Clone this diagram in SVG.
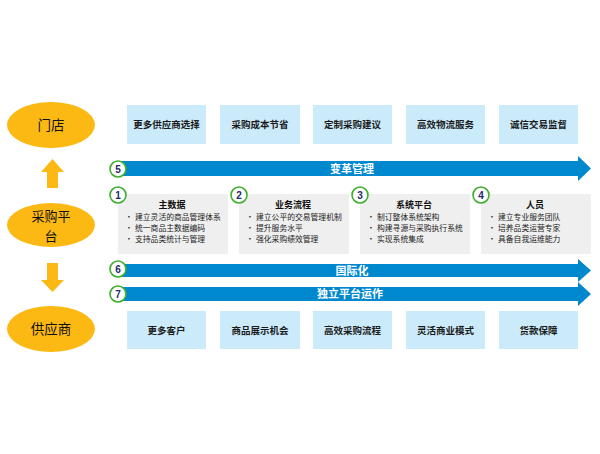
<svg xmlns="http://www.w3.org/2000/svg" width="600" height="454" viewBox="0 0 600 454">
<defs>
<style>
.ell{fill:#FDB913}
.et{font-family:"Noto Sans CJK SC","Liberation Sans",sans-serif;font-size:13.5px;fill:#111;text-anchor:middle}
.et2{font-family:"Noto Sans CJK SC","Liberation Sans",sans-serif;font-size:13px;fill:#111;text-anchor:middle}
.lb{fill:#CBEAFA}
.lt{font-family:"Noto Sans CJK SC","Liberation Sans",sans-serif;font-size:9.5px;font-weight:bold;fill:#1a1a1a;text-anchor:middle}
.gb{fill:#EFEFEF}
.gt{font-family:"Noto Sans CJK SC","Liberation Sans",sans-serif;font-size:9px;font-weight:bold;fill:#111;text-anchor:middle}
.bt{font-family:"Noto Sans CJK SC","Liberation Sans",sans-serif;font-size:7.8px;fill:#222}
.bar{fill:#0088CF}
.bart{font-family:"Noto Sans CJK SC","Liberation Sans",sans-serif;font-size:11px;font-weight:bold;fill:#fff;text-anchor:middle}
.num{fill:#fff;stroke:#3DAE2B;stroke-width:1.6}
.nt{font-family:"Liberation Sans",sans-serif;font-size:10px;font-weight:bold;fill:#1B2A6B;text-anchor:middle}
.ya{fill:#FDB913}
</style>
</defs>
<rect width="600" height="454" fill="#fff"/>
<g id="connectors">
<polygon class="ya" points="52.5,159 64,172 58,172 58,188 47,188 47,172 41,172"/>
<polygon class="ya" points="47,263 58,263 58,280 64,280 52.5,292 41,280 47,280"/>
<g id="bar5"><polygon class="bar" points="118,161 578,161 578,156 591,168.5 578,181 578,176 118,176"/><text class="bart" x="352" y="172.5">变革管理</text></g>
<g id="bar6"><polygon class="bar" points="118,264 578,264 578,259 591,270.5 578,282 578,277 118,277"/><text class="bart" x="352" y="274.5">国际化</text></g>
<g id="bar7"><polygon class="bar" points="118,287 578,287 578,282 591,294 578,306 578,301 118,301"/><text class="bart" x="350" y="298">独立平台运作</text></g>
</g>
<g id="n-mendian"><ellipse class="ell" cx="51" cy="125" rx="44" ry="23"/><text class="et" x="51" y="130">门店</text></g>
<g id="n-platform"><ellipse class="ell" cx="51" cy="225" rx="44" ry="22"/><text class="et2" x="51" y="221">采购平</text><text class="et2" x="51" y="240.5">台</text></g>
<g id="n-supplier"><ellipse class="ell" cx="51" cy="329" rx="44" ry="23"/><text class="et" x="51" y="334">供应商</text></g>
<g id="top1"><rect class="lb" x="127" y="105" width="79" height="39"/><text class="lt" x="166.5" y="128">更多供应商选择</text></g>
<g id="top2"><rect class="lb" x="220" y="105" width="80" height="39"/><text class="lt" x="260" y="128">采购成本节省</text></g>
<g id="top3"><rect class="lb" x="313" y="105" width="79" height="39"/><text class="lt" x="352.5" y="128">定制采购建议</text></g>
<g id="top4"><rect class="lb" x="406" y="105" width="79" height="39"/><text class="lt" x="445.5" y="128">高效物流服务</text></g>
<g id="top5"><rect class="lb" x="499" y="105" width="79" height="39"/><text class="lt" x="538.5" y="128">诚信交易监督</text></g>
<g id="bot1"><rect class="lb" x="127" y="311" width="79" height="38"/><text class="lt" x="166.5" y="334">更多客户</text></g>
<g id="bot2"><rect class="lb" x="220" y="311" width="80" height="38"/><text class="lt" x="260" y="334">商品展示机会</text></g>
<g id="bot3"><rect class="lb" x="313" y="311" width="79" height="38"/><text class="lt" x="352.5" y="334">高效采购流程</text></g>
<g id="bot4"><rect class="lb" x="406" y="311" width="79" height="38"/><text class="lt" x="445.5" y="334">灵活商业模式</text></g>
<g id="bot5"><rect class="lb" x="499" y="311" width="79" height="38"/><text class="lt" x="538.5" y="334">货款保障</text></g>
<g id="mid1"><rect class="gb" x="118" y="194" width="110" height="60"/>
<text class="gt" x="172" y="208">主数据</text>
<text class="bt" x="125" y="220">•</text><text class="bt" x="135" y="220">建立灵活的商品管理体系</text>
<text class="bt" x="125" y="231">•</text><text class="bt" x="135" y="231">统一商品主数据编码</text>
<text class="bt" x="125" y="242">•</text><text class="bt" x="135" y="242">支持品类统计与管理</text></g>
<g id="mid2"><rect class="gb" x="239" y="194" width="110" height="60"/>
<text class="gt" x="293" y="208">业务流程</text>
<text class="bt" x="246" y="220">•</text><text class="bt" x="256" y="220">建立公平的交易管理机制</text>
<text class="bt" x="246" y="231">•</text><text class="bt" x="256" y="231">提升服务水平</text>
<text class="bt" x="246" y="242">•</text><text class="bt" x="256" y="242">强化采购绩效管理</text></g>
<g id="mid3"><rect class="gb" x="360" y="194" width="110" height="60"/>
<text class="gt" x="414" y="208">系统平台</text>
<text class="bt" x="367" y="220">•</text><text class="bt" x="377" y="220">制订整体系统架构</text>
<text class="bt" x="367" y="231">•</text><text class="bt" x="377" y="231">构建寻源与采购执行系统</text>
<text class="bt" x="367" y="242">•</text><text class="bt" x="377" y="242">实现系统集成</text></g>
<g id="mid4"><rect class="gb" x="481" y="194" width="110" height="60"/>
<text class="gt" x="535" y="208">人员</text>
<text class="bt" x="488" y="220">•</text><text class="bt" x="498" y="220">建立专业服务团队</text>
<text class="bt" x="488" y="231">•</text><text class="bt" x="498" y="231">培养品类运营专家</text>
<text class="bt" x="488" y="242">•</text><text class="bt" x="498" y="242">具备自我运维能力</text></g>
<g id="c1"><circle class="num" cx="118" cy="195" r="8"/><text class="nt" x="118" y="198.5">1</text></g>
<g id="c2"><circle class="num" cx="239" cy="195" r="8"/><text class="nt" x="239" y="198.5">2</text></g>
<g id="c3"><circle class="num" cx="360" cy="195" r="8"/><text class="nt" x="360" y="198.5">3</text></g>
<g id="c4"><circle class="num" cx="481" cy="195" r="8"/><text class="nt" x="481" y="198.5">4</text></g>
<g id="c5"><circle class="num" cx="118" cy="169" r="8"/><text class="nt" x="118" y="172.5">5</text></g>
<g id="c6"><circle class="num" cx="118" cy="269" r="8"/><text class="nt" x="118" y="272.5">6</text></g>
<g id="c7"><circle class="num" cx="118" cy="294" r="8"/><text class="nt" x="118" y="297.5">7</text></g>
</svg>
